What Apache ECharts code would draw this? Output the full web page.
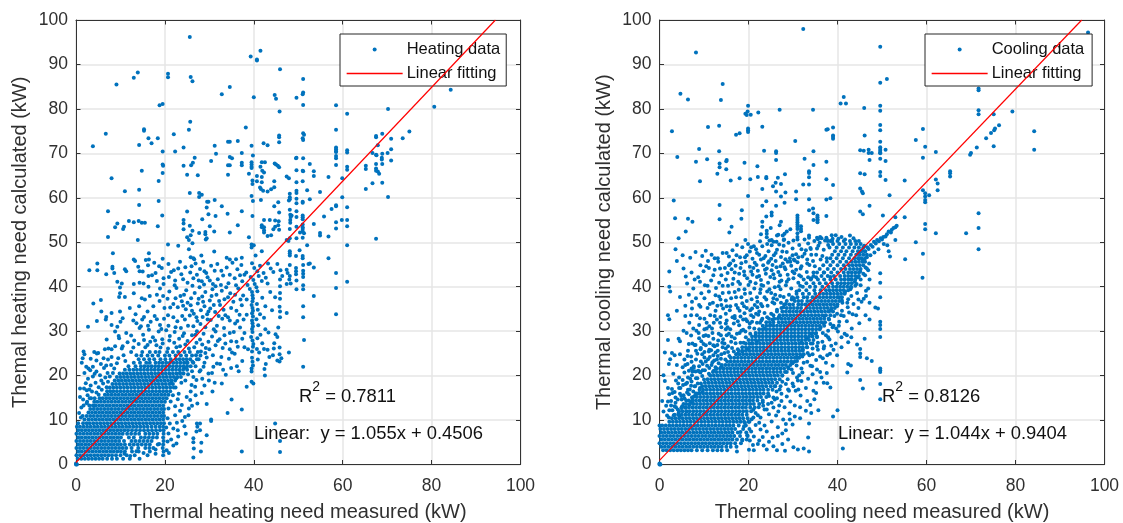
<!DOCTYPE html>
<html><head><meta charset="utf-8">
<style>html,body{margin:0;padding:0;background:#fff}#c{width:1123px;height:523px}</style>
<script src="https://cdn.jsdelivr.net/npm/echarts@6/dist/echarts.min.js"></script>
</head><body><div id="c"></div>
<script>
const heatFitX=[0,94.36], heatFitY=[0.4506,100];
const coolFitX=[0,94.89], coolFitY=[0.9404,100];
const heatingSparse=[25.6,96.2,39.3,91.8,40.7,91.1,40.7,90.9,41.5,93.1,45.9,88.9,9.1,85.5,13,87,13.9,88.2,20.7,87.9,20.7,87.1,25.8,87.2,26.2,86.2,32.8,83.3,34.6,84.9,40,82.6,44.7,83.1,45,82.3,49.6,82.5,18.8,80.8,19.5,81.1,45.8,79.4,25.7,77.1,38.2,75.8,25.4,75.3,15.3,75.4,15.3,75.1,6.7,74.4,22,74.3,16.3,73.4,18.4,73.4,45.7,74,45.7,73.6,45.7,72.5,3.8,71.6,14.2,71.9,17,72.3,24.2,71.3,34.2,72.6,34.6,72.6,36.4,72.8,42.2,72.3,43.1,71.8,39.5,71.7,31.2,71.7,19.5,70.4,22.3,70.4,31.5,69.9,37.3,70.1,39.8,69.5,34.6,69.2,35.1,68.9,26.7,69,49.5,68.9,30.4,68.3,26.3,67.9,25.9,67.3,24.2,67.2,19.5,67.5,19.6,67.2,34.2,67.3,34.6,67.3,37.3,67.9,37.3,67.3,39.5,68,39.5,67.5,39.5,67,39.5,66.7,41.8,68,42.5,68,41.5,67,44.7,67.7,45,67.5,45.4,67.2,45.7,66.9,14.8,66.1,41.9,66.1,42.3,65.7,49.6,66.2,19.5,65.6,25,65.2,27.4,65.1,34.2,65.2,38.9,65.4,40.7,64.9,41.8,64.7,47.4,64.8,47.9,64.4,8,64.4,18.6,63.8,39.7,63.9,39.7,63.1,40.7,63.7,41.8,63.5,44.6,63.7,49.6,63.5,41.4,62.3,41.6,62,42.1,61.6,43.1,61.4,43.9,61.9,44.6,62.4,11,61.5,14.2,61.8,25.6,61.1,27.7,61.1,28.3,60.7,27.7,60.2,39.5,60.4,39.8,59.3,48.1,60.9,48.1,60.1,48.1,59.7,47.9,59.4,49.6,61.6,49.6,61.1,49.6,59.8,49.6,58.8,18.6,59.3,31.2,59.5,29.5,59.1,29.8,59.1,41.6,59.5,45.5,59,44.6,58.1,14.2,58.4,32.8,58.1,29.4,57.8,7.2,57,25,56.9,37.3,57,34.1,56.4,45.7,56.7,19.4,56,29.8,56.3,31.4,55.9,39.7,55.9,28.4,55.2,7.2,51.2,8.8,53.4,9.3,54.2,10.6,53,10.8,53.5,11.9,54.8,13,54.5,14.1,54.8,14.8,54.4,15.5,54.4,18.4,53.6,13.9,50.5,24.2,55,24.2,54.2,24.2,52.9,25.6,53.7,26.2,52.6,25,51.1,25.4,50.5,25.8,51.6,27.7,52.1,29.1,52.3,29.1,51.8,29.4,50.9,29.2,50.6,31.1,52.4,30.1,53.6,34.6,52.2,36.4,53.8,38.9,51.1,42.3,55,41.8,53.8,41.8,53.4,42.3,53.4,42.3,52.7,42.3,52.2,43.1,51.4,43.9,51.6,43.6,55,44.8,54.9,45.6,54.7,45.5,53.8,44.8,53.5,44.4,52.9,45.7,52.8,48.1,57.3,48.2,56.2,48.5,56,48.3,55.7,48.2,55,48.2,54.4,48.1,53,48.1,50.9,47.8,50.3,47.4,50.5,26.2,49.8,20.7,49.5,23,49.2,39.5,49.5,39.5,48.8,40,49.3,41.8,48,40.4,47,31.1,47.9,25.4,48.4,16.4,47.5,8.3,47.5,28.2,47,25.8,46.6,26.4,46.4,26.6,46.2,33.9,46.5,34.6,46.1,36,46.2,37.3,46.5,13,46.1,15.7,46,16.4,46.1,19.5,46.3,51.1,86.7,51.1,83.7,51,83.3,51.1,80.9,58.5,80.8,70.2,80,61,78.9,80.6,80.5,84.3,84.3,58.5,75.3,75,74.9,73.5,73.4,68.9,74.4,67.5,73.9,67.5,73.6,70.9,73.3,51.1,74.5,51.3,74.2,51,73.4,51.1,73,67.9,71.8,70.9,70.9,58.5,71.3,58.5,70.9,58.5,70.5,58.5,70.3,61,70.7,61,70.2,66.7,70.1,67.5,69.7,67.6,69.6,70.1,70.1,68.9,69.9,68.8,69,68.8,68.6,49.6,69,51.1,68.9,70.9,68.4,68.9,67.6,67.5,67.6,58.5,69.4,58.5,68.9,58.5,67.4,52.6,67.6,65.2,67.2,65.2,66.5,61,67,61,66.3,67.5,66.6,67.9,65.9,67.5,66.1,68.2,65.4,51,66.1,51.1,66,53.5,66,53.5,64.9,56.8,64.7,59.9,64.4,51,63.7,66.7,63.3,68.9,63.4,65.2,62,52,61.7,54.9,61.3,70.2,60.2,59.9,60.1,52.6,59.7,51,59.1,51,58.9,61,57.9,58.5,58.3,58.5,58.1,57.5,57.5,49.6,57,49.6,55.7,51,56,51,55.6,51,55.2,55.8,55.8,59.8,55,61,55,58.5,54.5,53.5,54.1,61,53.6,58.5,53.1,54.9,52.1,54.9,51.5,56.8,51.3,67.5,50.8,61,49.3,51,54,51,53.4,51,53,51,52.4,51,51,49.6,53.5,50.4,52.2,51.3,52,49.6,50.9,52,49.3,48.1,48,48.1,47.5,48.1,47,50.3,48.2,51,46.9,51,46.4,56.8,46.4,49.5,46.9,58.5,43.1,61,41.1,58.5,39.7,53.5,37.9,51.1,35.6,58.5,33.8,51.1,33.1,47.4,34.1,51.3,28,47.9,25.2,51.1,22,51.1,44.9,52.6,45.2,52.3,45.1,53.5,44.3,48.1,44.9,47.4,43.8,47.6,43.1,49.5,44.2,49.5,43.5,49.5,42.8,51.1,43.6,51.1,42.9,51.1,42.2,48.1,42.4,48,41.6,48.3,40.7,49.6,41.4,49.6,39.4,51.1,40.3,51.1,39.4,0,0,0.1,0.1,0.2,0,0,0.2];
const heatingCloud=[3,43.7,4.8,43.7,4.8,45.2,6.8,42.8,8.2,44.5,8.2,44.1,8.6,43.1,11,43.9,11.3,43.5,13.3,45.8,14,44.5,14.3,43.5,15,43.4,17.9,43.1,16.3,42.4,9.3,41.1,10.3,40.7,9.9,39.8,13,40.6,14.3,40.9,15.2,40.7,16.3,40,18.2,41.3,19.7,41.9,19.7,40.6,18.9,39.6,9.9,38.5,9.7,37.7,11,37.7,13,38.5,14.8,37.4,15.5,37.1,3.9,36.2,5.6,37,5.7,34.4,8,34.1,4.7,32.3,2.7,31,6.8,33.2,6.7,32.6,9.9,34.4,10.5,32.9,10,32.1,8,31.4,9.3,31,8.8,29.9,11.3,29.6,6.9,28.1,9.6,28.9,9.7,28.4,4.1,25.3,1.7,25.4,1.9,24.8,1.5,23.9,1.3,22.9,2.8,21.6,3.8,22,3.2,21.2,4.7,25,5,25.1,6.5,25.9,7.3,26.1,8,25.9,8.8,26.6,10.3,26.1,10.5,26.6,6.2,23.9,8,24.2,9.5,23.9,10.7,24.6,2.3,22,0.9,17.1,1.8,17.1,0.9,15.2,2.6,15.6,35,14.6,34.1,11.6,37.3,12.4,28.3,16.1,30.7,16.4,27.3,13.7,29.4,13.6,30.4,10.1,30.4,9.8,27.2,9.2,27.3,8.5,27.1,7.4,26.4,5.9,26.4,5,26.5,3.6,27.9,9.2,27.9,7.7,29.4,6.6,28.2,4.9,28.1,2.9,26.4,1.6,37.3,2.9,44.8,9.2,45.9,5.3,45.9,2.8,22.6,4.7,21.9,4.3,20.8,7,21.1,9.2,22.3,11.1,23.8,13.4,24.9,15.2,25.7,14.5,25.3,11.1,24.5,10.7,26,17.9,26.8,17.5,26.4,19.7,28.7,22,29.8,20.5,31.7,22.7,30.9,22,32.8,18.2,38.4,17.5,39.5,18.6,39.9,18.2,39.5,21.6,39.5,20.9,42.5,20,42.4,21.5,39.8,22.3,45.8,26.3,45.8,24.8,45.8,23.2,46.2,23.9,44.6,27.3,44.5,26.1,16.2,44.8,17.6,45.4,19.3,44.2,20.8,45.1,22,43.7,23.4,45.6,24.6,44.4,25.7,43.2,26.9,45.2,27.9,44,28.6,45.6,29.3,43.1,30.4,44.7,31.8,45.1,32.7,43.6,33.9,44.3,35.2,45.4,36.3,43.9,37.2,44.9,38.3,43.2,39.6,45.3,40.1,44.2,40.8,43.5,41.4,44.7,42.2,43.1,43.2,45.2,43.8,44.1,42.7,42,44.4,43.3,45.3,45.1,46,43.7,46.4,42.4,20.9,42.2,22.3,41.4,23.7,42.8,25.1,40.9,26.4,41.9,27.2,42.7,28.3,41.2,29.6,42.1,30.8,40.6,31.9,41.7,33.1,42.5,34.3,40.8,35.7,41.9,36.9,42.6,37.4,41.2,38.6,40.4,39.3,42.2,39.9,41.5,40.2,40.6,41.1,42.4,41.8,41.3,43.1,40.7,45.9,41.6,47.4,40.6,45.9,40.1,21,38.9,22.6,39.7,23.5,37.9,24.8,39.2,25.9,37.4,26.7,38.6,27.8,39.9,28.4,37.8,29.1,38.8,30.1,36.9,30.7,39.4,31.6,38.2,32.8,39.1,33.4,37.2,34.7,38.5,35.4,36.6,36.5,39.6,37.6,38,38.4,37.1,39.1,39.5,39.6,38.8,39.7,38.1,39.8,37.4,39.7,36.7,40.6,39.9,40.8,39,41.9,37.5,43.7,38.8,44.8,37.6,45.9,38.6,45.9,37.3,16.6,37.9,17.4,35.6,18.8,36.8,19.9,35.2,20.6,37.3,21.9,36.1,22.9,35.4,23.8,36.7,24.7,34.9,25.8,35.8,26.5,33.9,27.4,36.2,28.1,34.7,28.9,35.6,29.5,33.8,30.2,35.1,31.3,34.3,32.4,35.9,33.6,33.6,34.9,35.2,36.1,34.6,37.3,35.8,38.4,33.7,39.5,35.9,39.7,35.2,39.8,34.6,39.6,34,39.8,33.3,40.7,36.1,40.9,34.8,41.4,33.8,42.6,35.6,44.1,34.7,45.8,35.5,45.9,34.4,12.1,35.2,13.4,33.8,14.2,35.6,15.3,33.2,16.1,34.4,13.6,31.8,14.9,32.6,16.8,32.1,17.7,33.4,18.9,31.4,19.8,32.8,20.8,31.2,21.9,33.1,22.8,32.2,23.6,30.7,24.5,32.6,25.6,33.5,26.4,31.1,27.3,32.3,28.5,33.2,29.1,30.9,30.3,32.5,31.7,31.2,32.9,32.8,34.2,33.1,35.8,31.7,36.9,30.8,37.7,32.6,39.6,32.4,39.7,31.8,39.8,31.1,39.6,30.5,39.7,29.8,40.6,32.7,41,31.3,42.3,33,42.6,30.4,43.3,29.7,45.9,33.1,45.5,30.8,12.4,29,14.3,30.7,15.1,29.2,16.4,30.3,17.3,28.6,18.6,29.9,19.4,28.2,20.3,30.2,21.1,28.9,22.2,29.8,23.2,28.3,24.3,29.5,25.1,27.8,26.1,29.1,27.2,30,27.9,28.1,28.7,29.4,29.8,27.6,30.6,28.8,31.4,29.9,32.3,28.2,33.4,29.1,34.9,27.7,35.5,29.8,37.4,28.3,39.4,28.7,39.7,27.9,39.9,27.1,40.8,28.4,41.5,29.2,41.9,27.3,42.3,26,44.9,29.3,45.3,28.7,11.6,27.5,12.9,26.3,14.1,27.1,15.6,26.4,16.7,27.6,18.1,26.8,19.5,27.2,20.7,26.1,22.1,27.4,23.4,26.6,24.6,27,26.6,26.4,28.4,27,29.2,26.2,31.4,26.8,33,26.2,35.1,25.2,36.4,26.5,38.7,25.9,39.8,26.5,39.6,25.4,40.7,26,41.2,25.2,43.1,25.8,44.3,24.6,45.3,23.4,29.1,25.1,30.8,24.6,32.7,24.2,34.4,23.8,35.7,24.9,36.2,22.1,37.4,23.3,39.6,24,39.7,23.1,40.9,23.6,42.7,22.6,43.5,24.2,27.6,23.7,28.9,22.9,29.4,24.1,32.4,22.6,33.1,21.3,34.9,21.7,36.6,21,26.9,22.1,27.8,20.9,28.4,19.3,30.6,20.6,31.2,18.4,33.7,20.2,26.1,21,27.1,19,28.9,17.8,29.9,18.9,25.8,16.4,26.9,15.6,25.4,12.6,26.1,13.2,23.4,12.1,23.9,9.8,24.4,8.6,22.7,9.4,23,6.3,24.7,6.9,20.9,2.6,21.4,5.6,20.4,3.2,20.6,10.4,21.8,15.6,23.1,15.9,22.4,17.3,23.7,18.4,24.6,18.9,25.2,20.3,1.9,20.6,2.7,19.3,3.8,19.8,4.6,20.9,5.4,20.1,6.3,21.7,7.1,20.6,7.9,22.4,9.2,22.8,3.3,17.8,4.4,18.4,5.7,18.9,6.6,19.6,1.6,14.6,2.4,16.7,3.6,16.4,1.2,12.8,0.7,11.6,1.1,10.6,11.1,23.3,12.4,25.3,13.6,24.6,5.8,16.8,6.9,17.4,4.2,14.9,4.6,16.2];
const heatingExtra=[17.1,42.6,18.7,44.6,21.4,43.3,23,44.1,24.1,41.7,26,44.6,27.6,41.4,28.9,43.5,30.1,41.4,31.2,43.6,32.6,40.4,34.6,42.7,36,40.3,37.9,42.7,22.2,40.3,24.3,38.2,26.2,40.2,27.6,37.3,28.8,40.5,30.5,37.9,31.4,40.1,32.2,36.8,33.8,39.9,34.2,37.6,35.8,38.2,37,37.1,18.2,38.2,19.6,37.9,21.2,35.3,22.4,37.4,24.1,35.7,25.1,36.4,26.1,34.6,27.1,33.1,28.6,36.6,29.8,34.4,31,35.9,32.1,33.4,33.2,34.8,34.6,32.4,36.8,33.7,12.9,32.4,14.6,31.1,16.2,31.2,18.2,32.7,19.2,30.5,20.7,33.6,22.4,30.9,23.9,33.4,25.2,31.2,26.9,29.2,28,31.6,29.6,32.6,31,30.4,33.3,30.7,34.6,29.6,36.3,32.3,37.9,29.6,13.1,27.9,15.3,28,16.1,26.9,17.8,27.9,19,26.3,21,27.9,22.6,26.4,24,28.9,25.4,26.1,27.1,27.4,28.1,25.4,30,25.9,31.9,27.8,33.6,27.2,34.6,25.9,36.1,27.6,37.9,26.4,5.6,22.6,6.8,22.3,8.6,21.6,3.3,23.8,4.6,23.4,7.2,23.6,2.2,18.3,3,16.9,5.1,17.4,4.2,20.4,6.1,18.2,7.2,18.6,7.6,19.8,8.3,20.6,1.7,13.3,2.4,13.8,3.1,14.9,4.1,13.2,20.8,12.6,21.3,14.2,22.3,13.1,22.9,14.7,21.4,18.3,22.6,19.4,23.4,20.6,24.4,21.7,26.2,23.1,27,24.6,28,21.2,24.9,22.9,20.6,5.2,21.9,8.1,22.9,7.7,20.3,8.3,16.6,2.9,17.9,3.4,18.7,4.6,17.9,2.4,15.2,2.6,13.6,3,12.2,1.9,10.9,2.4];
const heatingCore=[[1.3,0.4,1.2,2,2.8,3.6,4.4,5.2,6,7,8.1,9.2,10.6,12.1,14.3],[2.1,0.1,0.9,1.7,2.5,3.3,4.1,4.9,5.7,6.5,7.3,8.1,9,10,11.4,13.2,16.1,19.6],[2.9,0.5,1.3,2.1,2.9,3.7,4.5,5.3,6.1,6.9,7.7,8.5,9.3,10.1,11,12.6,14.1,19.7],[3.7,0.1,0.9,1.7,2.5,3.3,4.1,4.9,5.7,6.5,7.3,8.1,8.9,9.7,10.5,11.3,12.5,14,15.6,16.5,17.4,19.5],[4.5,0.5,1.3,2.1,2.9,3.7,4.5,5.3,6.1,6.9,7.7,8.5,9.3,10.1,11,12.1,13,13.9,14.8,15.7,16.6,18.4,19.6],[5.3,0.1,0.9,1.7,2.5,3.3,4.1,4.9,5.7,6.5,7.3,8.1,8.9,9.7,10.8,12.5,13.4,14.3,15.2,16.1,17,19.7],[6.1,0.5,1.3,2.1,2.9,3.7,4.5,5.3,6.1,6.9,7.7,8.5,9.3,10.1,11.9,13,14.6,15.5,16.4,17.3,18.2,19.6],[6.9,0.1,0.9,1.7,2.5,3.3,4.1,4.9,5.7,6.5,7.3,8.1,8.9,9.7,10.5,11.5,12.4,13.3,14.2,15.6,16.5,17.4,18.3,19.7],[7.7,0.5,1.3,2.1,2.9,3.7,4.5,5.3,6.1,6.9,7.7,8.5,9.3,10.1,10.9,11.7,12.6,13.5,14.4,15.3,16.2,17.1,18,18.9,19.7],[8.5,0.2,0.9,1.7,2.5,3.3,4.1,4.9,5.7,6.5,7.3,8.1,8.9,9.7,10.5,11.3,12.1,12.9,13.7,14.5,15.3,16.1,17,17.9,18.8,19.6],[9.3,0.5,1.6,2.4,3.1,3.9,4.7,5.5,6.3,7.1,7.9,8.7,9.5,10.3,11.1,11.9,12.7,13.5,14.3,15.1,15.9,16.7,17.5,18.3,19.1,19.8],[10.1,1.9,2.8,3.6,4.4,5.2,6,6.8,7.6,8.4,9.2,10,10.8,11.6,12.4,13.2,14,14.8,15.6,16.4,17.2,18,18.8,19.6],[10.9,1.5,2.4,3.2,4,4.8,5.6,6.4,7.2,8,8.8,9.6,10.4,11.2,12,12.8,13.6,14.4,15.2,16,16.8,17.6,18.4,19.2,19.8],[11.7,2.8,3.6,4.4,5.2,6,6.8,7.6,8.4,9.2,10,10.8,11.6,12.4,13.2,14,14.8,15.6,16.4,17.2,18,18.8,19.6],[12.5,3.2,4,4.8,5.6,6.4,7.2,8,8.8,9.6,10.4,11.2,12,12.8,13.6,14.4,15.2,16,16.8,17.6,18.4,19.2,19.8],[13.3,3,3.8,4.4,5.2,6,6.8,7.6,8.4,9.2,10,10.8,11.6,12.4,13.2,14,14.8,15.6,16.4,17.2,18,18.8,19.6],[14.1,2.5,4.1,4.8,5.6,6.4,7.2,8,8.8,9.6,10.4,11.2,12,12.8,13.6,14.4,15.2,16,16.8,17.6,18.4,19.2,20],[14.9,3.4,5.3,6,6.8,7.6,8.4,9.2,10,10.8,11.6,12.4,13.2,14,14.8,15.6,16.4,17.2,18,18.8,19.6,20.4],[15.7,5.1,6.5,7.2,8,8.8,9.6,10.4,11.2,12,12.8,13.6,14.4,15.2,16,16.8,17.6,18.4,19.2,20,20.8],[16.5,7,7.7,8.4,9.2,10,10.8,11.6,12.4,13.2,14,14.8,15.6,16.4,17.2,18,18.8,19.6,20.4,21.2],[17.3,7.6,8.4,9.2,10,10.8,11.6,12.4,13.2,14,14.8,15.6,16.4,17.2,18,18.8,19.6,20.4,21.2,22],[18.1,8.2,9,9.8,10.6,11.4,12.2,13,13.8,14.6,15.4,16.2,17,17.8,18.6,19.4,20.2,21,21.8],[18.9,8.7,9.5,10.3,11.1,11.9,12.7,13.5,14.3,15.1,15.9,16.7,17.5,18.3,19.1,19.9,20.7,21.5,22.3],[19.7,9.2,10,10.8,11.6,12.4,13.2,14,14.8,15.6,16.4,17.2,18,18.8,19.6,20.4,21.2,22,22.8,23.6],[20.5,9.8,10.6,11.4,12.2,13,13.8,14.6,15.4,16.2,17,17.8,18.6,19.4,20.2,21,21.8,22.6,23.4,24.2],[21.3,11,12,12.9,13.7,14.5,15.3,16.1,16.9,17.7,18.5,19.3,20.1,20.9,21.7,22.5,23.3,24.1,25],[22.1,11.8,13.4,14.6,15.4,16.2,17,17.8,18.6,19.4,20.2,21,21.8,22.6,23.4,24.2,25,25.8],[22.9,13,14.4,15.8,16.6,17.9,18.7,19.5,20.3,21.1,21.9,22.7,23.5,24.3,25.1,26.4],[23.7,14.1,15.3,16.5,17.6,19,20.1,21.3,22.5,23.3,24.1,24.9,25.7,27.2],[24.5,14.7,16.1,17.2,18.5,20,21,22.4,23.6,24.8,26.1,28],[25.3,14.9,16.6,17.9,18.8,20.5,21.8,23,24.4,25.6,27.4]];
const coolingSparse=[32.3,98,8.2,92.7,14.2,85.6,4.7,83.4,6.4,82.1,13.8,82,41.4,82.7,40.7,81.2,41.9,81.2,19.9,80.7,27,79.8,34.5,79.8,19.8,79.4,19.3,78.9,19.6,78.6,20.5,78.7,22.2,79.2,13.4,76.2,10.9,75.9,23.1,76,19.9,75.6,19.9,75.2,19.9,74.8,39,75.8,37.8,75.4,37.5,75.3,2.8,75,17.2,74.2,18,74.5,39,74,39,73.7,39,73.3,30.5,72.8,8.9,71,13.4,70.5,23.5,70.6,26.2,70.5,26.2,70.1,34.6,70.5,4,69.2,10.7,68.7,8.2,68.1,15.1,68.5,15,68.2,13.5,67.7,13.5,66.9,19.1,67.9,32.6,68.8,26.2,68.5,37.5,68.1,34.6,67.4,22,67.1,15,66.4,33.6,66,33.6,65.6,13,65.4,28.2,65.3,33.6,64.6,22.1,64.7,24,64.7,24,64.4,26.6,64.5,18,64.4,16,63.9,20.4,64.2,9.1,63.7,37.5,64.2,26.1,63.4,27.3,63.1,32.3,63,33.6,63,39,62.9,25.5,62.6,23.1,62,30.7,61.4,26.2,61.4,28.3,61.2,19.9,60.4,27.3,60.3,3.2,59.4,30.7,59.7,33.6,59.7,37.5,59.6,38.4,59.9,24,59.2,28.1,58.9,13.5,58.4,23.1,58.2,26.2,58.2,18.5,57.2,33.6,57.2,34.5,57.6,25.2,56.7,25.2,56,34.6,56.5,35.5,56,35.5,55.6,35.5,55.2,35.5,54.9,35.5,54.5,3.5,55.4,6.4,55.3,13.5,55.2,18.4,55.3,37.5,55.9,24,55.8,34.6,55,31,56,31,55.5,31,55,31,54.5,31,54,31,53.5,31,53,31.8,53.6,31.8,53,31.8,52.5,7.4,54.6,23.1,54.6,23.1,53.5,16.2,53.5,27.3,54.6,27,53.8,25,53.2,5.9,52.4,15.7,52.2,29.4,52.9,28.6,52.4,28.1,51.9,27.7,51.5,26.7,51.7,26.4,51.5,22.8,51.8,24.1,52.6,24.1,51.9,24.1,51.1,4.3,50.9,19.3,50.5,25.2,50.5,25.6,50.1,27.9,50.5,33.6,51.5,33.6,51,35.4,51,36.1,51.2,37.5,51,38.7,51.6,39.6,51.6,38.9,50.8,40.2,50.8,31,52,31,51.2,31,50.6,49.6,94,51.1,86.7,49.6,85.9,71.7,84.6,71.7,84.2,96.3,97.2,49.6,80.7,49.6,79.6,46,80.2,71.7,79.7,71.7,78.8,75.1,78.8,79.3,79.4,76.3,76.3,75.4,75.6,75.2,75.2,74.5,74.6,84.2,75,49.6,76.4,49.6,75.2,59.2,75.5,46.1,74,73.4,73.4,57.6,73,49.6,72.6,49.6,71.4,49.6,71,49.6,70.6,49.6,70.2,49.6,70,50.8,70.8,59.7,71.5,75.1,71.6,71.3,71.3,84.2,70.8,62.1,70.3,70,70.1,69.8,69.7,59.2,69,49.6,68.8,50.8,68.3,47.2,68.5,45.9,70.6,45.1,70.7,47,70.8,47,70.1,47.7,70.1,65.3,66,65.3,65.5,65.3,64.8,49.6,65.8,49.6,64.9,45.1,65.5,46.1,65.3,62.1,64.1,62.5,63.2,50.8,64,55.1,63.9,45.1,62.1,45.5,61.4,45.7,61,59.2,61.7,62.5,61.7,59.7,61,59.7,60.3,59.7,59.5,59.7,59,60.6,60.6,51.7,60.6,47.2,58.2,45.1,56.9,45.7,56.3,50.2,56,71.7,56.5,53,55.6,55.1,55.6,71.7,53.2,59.7,54.1,59.7,52.9,62.1,52,68.9,52,57.6,50,71.7,48.4,59.2,47.4,53,50.5,51.2,49.3,51.5,48,51.8,46.8,55.2,46.2,59.1,42,49.6,43,49.6,40.9,49.6,37.6,49.6,32.1,49.6,31.4,49.6,30.5,49.6,28.7,49.6,21.6,49.6,21.2,49.6,20.8,49.6,18.1,49.6,14.7,47.7,23.3,46.6,23.9,46.1,28.3,45.7,17.1,48.5,35.3,49.1,35.1,47.2,36.4,47.2,32.6,45.1,26,45.1,25,45.1,24.2,45.1,19,53.3,53.7,53,53.4,52.6,53.2,52.2,52.8,52,52.2,51.5,52.4,51.1,51.8,50.8,51.3,50.3,51.2,50,50.6,49.7,50.9,49.3,50.2,48.9,50.5,48.6,49.7,48.2,50.1,47.9,49,47.5,49.4,47,48.5,46.7,48.9,46.2,47.9,46,49.2,45.5,48.2,44.9,47.8,50.4,49.6,49.2,48.4,48.3,47.7,47.4,47.1,46.6,46.6,45.6,46,44.8,46.4,0,0,0.1,0.1,0.2,0,0,0.2,41.2,3.6,40,12.2,39,10.8,38.4,17.3,37.7,18.3,42.4,22.6,43,22.3,42.2,20.7,44.4,27];
const coolingCloud=[3.6,48.4,5.2,47.1,6.9,46.5,8.1,47.8,9.6,46.9,10.4,48.1,11.7,47.2,13.1,46.4,14.2,47.6,15.6,46.8,16.4,48.2,17.3,47.1,18.6,48.9,19.2,46.6,20.3,47.9,20.9,46.3,21.7,48.4,22.4,47.2,23.1,49.1,23.8,46.9,24.5,48,25.2,49.3,25.7,47.1,26.4,48.3,27.3,46.7,27.9,49.2,28.6,47.8,29.3,46.4,29.9,48.6,30.7,47.3,31.4,49.4,32.1,46.8,32.9,48.2,33.4,49.7,34.1,47.2,34.8,50.3,35.4,48.6,36,49.9,36.6,46.9,37.2,50.4,2.2,43.4,3.9,45.8,5.4,44.1,5.9,42.3,6.2,40.7,7.2,43.2,8.7,42.1,9.9,43.5,10.5,44.6,11.1,44.2,11.6,41.4,12.4,43.8,13.2,45.6,13.9,42.6,14.7,44.2,15.3,43.1,15.9,45.2,16.6,41.8,17.1,44.7,17.9,42.9,18.4,45.3,19,43.4,19.7,41.9,20.3,44.5,20.9,42.7,21.4,45.4,22.1,43.6,22.8,41.5,23.3,44.8,23.9,42.9,24.6,45.7,25.2,43.7,25.8,41.9,26.3,44.4,27.1,42.6,27.7,45.2,28.3,43.9,29,41.7,29.6,44.7,30.3,43,31,45.5,31.8,42.3,2.2,40,2.4,38.9,4.6,37.7,6.6,38.2,7.6,39.6,8.2,37.4,9.4,38.5,10.2,40.3,11.1,38.9,12,36.4,12.7,39.7,13.4,37.8,14.2,40.2,14.9,36.9,15.6,38.7,16.4,40.6,17.2,37.6,17.8,39.3,18.6,36.3,19.2,38.4,20,40.4,20.7,37.2,21.3,39.6,22,36.6,22.6,38.6,23.3,40.2,24,37.1,24.7,39.4,25.4,36.5,26,38.2,26.8,40.1,27.3,36.4,1.9,33.6,2.2,32.7,3.9,34.6,5.8,35.7,5.8,33.4,7.3,35.1,6.7,31.9,8.4,33.6,9.2,35.5,8.9,31.4,10.1,32.8,10.8,35.2,11.4,33.6,12.2,31.9,13,35.7,13.7,33.2,14.3,35.1,15.1,32.4,15.8,34.7,16.7,31.7,17.6,35.2,18.2,33.3,19,35.6,19.7,32.2,20.4,34.7,21.1,33.2,22,35.4,22.9,32.4,1.9,28,4.3,28.3,4.6,27.7,5.4,30.1,6.6,27.1,6.4,25.6,7.1,29,7.4,27.2,8.3,30.1,8.9,28.4,9.3,26.2,9.9,28.9,10.6,30.6,11.3,27.3,11.9,29.6,12.4,26.6,13.3,29.4,14.1,27.4,14.9,30.4,15.4,26.6,16.2,28.8,17.1,27.3,18,29.6,18.9,27.4,19.3,29.9,1.2,25.2,2.8,25.1,2.4,23.7,2.1,22.6,3.4,24.6,3.9,22.4,4.6,24.8,5.2,21.9,5.6,23.6,6.3,22.6,7.1,24.3,7.7,22.1,8.5,24.9,9.3,23.2,10.1,25.3,10.9,23.7,11.6,25.7,12.3,23.4,13.1,25.6,13.8,23.8,14.6,25.1,0.9,20.1,1.2,18.8,1.9,17.2,2.8,17,2.2,15.8,3.1,20.4,3.4,16.3,3.7,18.9,4.4,19.6,4.7,17.2,4.9,15.4,5.6,20.7,5.9,18.1,6.4,16.8,6.9,19.3,7.4,20.9,7.9,17.6,8.5,19.4,8.9,20.9,9.3,18.2,0.9,11.9,0.6,14.3,1.5,13.2,1.7,11,2.2,12.2,2.6,14.3,3.2,11.1,3.7,12.9,4.1,14.6,4.5,10.9,5.1,13.1,5.6,14.9,6.1,11.9,6.6,15.8,7.1,14.1,7.6,16.4,36.9,43.2,38.4,42.2,41,36.9,42.3,35.4,43.1,37.9,44.4,38.6,45.2,40.3,46.4,39.1,47.2,41.6,46.9,43.7,45.9,37.3,44.7,35.2,43.4,33.8,42.1,32.2,40.8,33.6,38.9,30.9,40.3,31.2,41.6,29.4,43.2,30.6,44.9,31.8,46.3,33.6,38.2,28.1,39.6,27.2,40.9,28.6,42.4,27.5,37,26.6,38.3,24.9,39.1,25.8,36.1,24.3,37.4,22.9,33.9,22.2,35.2,23.5,34.4,20.3,36.1,20.8,33.4,19.3,35.2,18.4,31.9,18.8,32.9,17.2,34.6,16.6,36.4,19.6,30.6,16.6,31.7,15.5,33.2,14.3,34.8,14.7,29.4,14.2,30.4,13.3,31.6,12.9,29.2,11.5,30.4,10.8,28.1,12.9,26.9,13.3,26.2,11,27.8,10.1,34.1,11.6,35.7,12.2,33.6,9.2,29.9,9,26.6,8.4,28.4,7.7,25.2,9.7,24.1,7.4,25.4,6.1,23.2,6.2,28.9,5.6,27.6,4.6,30.1,3.9,32.4,3.6,33.6,2.9,33.4,6.1,22.1,4.6,24.1,3.4,21.2,3.2,20.1,3.3,17.4,2.9,26.4,3.2,28.2,3.1,31.1,3.4];
const coolingWings=[20.6,48.9,21.9,47.6,23.4,46.4,24.2,49.6,25.1,46.3,26.1,47.6,26.9,49.5,27.6,47.9,28.3,46.2,29,49.9,29.9,47.1,30.4,45.9,31.2,46.6,31.9,48.4,32.6,47.4,33.2,46.1,33.9,48.7,34.5,45.8,35.2,47.2,35.7,49.2,36.2,46.1,36.9,48.3,37.6,46.4,37.9,49.4,15.6,44.8,16.9,43.2,18.2,44.2,19.4,45.6,20.6,43.4,21.8,44.9,22.4,42.4,23.7,43.8,24.9,42.2,25.4,44.9,26.7,43.3,27.4,41.4,28.1,44.4,28.8,42.7,29.4,45.6,30.1,41.9,30.7,43.8,31.4,42.6,31.9,44.6,32.4,41.6,33.1,43.3,33.7,44.9,34.1,41.9,34.6,43.2,35.2,42.1,14.2,38.6,15.4,40.2,16.9,38.8,18.1,40.6,19.1,39.4,20.4,38.6,21.6,40.8,22.7,39.4,23.6,37.6,24.4,40.9,25.1,38.6,25.9,39.9,26.4,37.1,27.2,39.4,27.9,37.7,28.4,40.3,29.1,38.2,29.6,39.6,30.2,37.4,30.8,38.9,31.6,40.2,12.6,34.6,13.9,35.9,14.9,33.9,15.9,35.6,16.9,33.4,18,34.6,18.8,32.6,19.6,35.2,20.6,33.6,21.4,35.9,22.2,33.7,22.8,36.1,23.6,34.1,24.3,35.7,25.1,33.9,25.8,36.2,26.4,34.8,10.6,31.9,11.8,30.6,12.9,32.6,13.9,30.9,14.9,31.7,15.9,30.4,16.9,32.9,17.9,31.3,18.8,30.3,19.4,32.7,20.2,30.8,20.8,32.1,21.3,30.6,21.9,31.9,22.4,34.4,9.4,27.7,10.4,29.1,11.2,25.8,12.1,28.3,13,26.9,13.8,29.1,14.6,27.2,15.6,29.4,16.3,26.2,16.9,28.4,17.6,25.9,18.2,27.4,8.2,25.6,9.6,24.8,10.4,26.8,11.3,24.2,12.6,25.2,13.9,24.8,14.9,26.1,15.7,24.4,7.2,21.6,8.2,23.6,8.9,22.1,9.7,21.2,10.4,23.2,11.2,21.7,11.9,23,12.6,21.9,13.3,22.8,6.4,19.6,7.2,18.7,8.1,20.9,8.6,18.2,9.6,19.9,10.2,21.2,4.6,15.9,5.3,17.9,6,14.4,6.8,16.9,7.3,15.1,8,17.6,8.4,15.9,9.1,17.2,2.9,12.2,3.6,13.9,4.3,11.6,4.9,12.7,5.4,13.6,18.2,7.3,19,8.6,20.6,7.4,21.6,8.9,22.7,7.9,20.3,5.4,21.2,6.3,22.4,9.4,23.6,8.8,20.7,10.2,21.6,11.6,22.7,10.6,23.6,12.4,24.6,11.3,25.6,12.8,26.7,11.9,24.4,13.6,23.2,14,25.9,14.6,27.4,14.3,28.6,15.3,26.3,16.4,27.4,15.9,28.9,16.9,30.1,17.6,31.2,16.9,27.6,18.6,28.8,19.2,29.9,18.2,30.9,19.6,32.1,20.7,28.6,20.8,29.7,21.4,30.8,22.3,31.9,21.6,33.2,23.1,34.3,22.1,35.4,21.4,30.9,23.3,32.1,24.3,33.3,25.1,34.4,24.8,35.6,25.8,36.7,23.9,37.7,24.6,33.1,26.4,34.4,27.2,35.4,26.6,36.6,27.6,37.9,28.6,38.6,26.7,34.1,29.4,35.4,28.6,36.7,29.6,37.9,30.1,39.1,31.2,40.1,29.9,36.9,31.8,38.1,32.6,39.3,33.4,40.4,32.1,41.4,33.4,42.6,34.2,38.6,34.7,39.9,35.6,41.1,36.4,42.4,37.2,43.6,36.1,44.7,37.1,41.6,38.6,42.9,39.4,44,40.2,45.2,41.6,46.2,42.6,43.9,41.1,45.1,43.4,46.3,44.3,47.1,45.2,34,48.5,35.6,50.7,38.4,50.3,41.7,50.6,43.6,50.9,44.8,50.3,42.8,51.5,40.9,51.2,37.6,50.7,36.4,50.9];
const coolingFill=[17.4,49.4,19.9,49.6,21.2,49.1,22.6,50.2,24.7,50.4,26.3,50.1,28,50.6,30.1,50.4,32.6,50.6,33.2,45.2,31.7,44.1,30.2,46.1,28.8,45.6,27.2,44.6,26.1,45.8,24.4,45.4,22.8,46.1,21.1,44.2,19.6,47.1,18.1,46.6,16.6,45.9,15.1,47.6,13.6,44.1,12.4,46.4,10.9,45.8,9.2,44.8,
34.9,44.6,33.4,42.1,31.2,40.9,29.9,43.4,28.6,41.1,27,41.1,25.6,42.8,24.1,44.1,22.9,40.4,21.9,42.2,20.4,41.1,19.1,42.6,17.7,41.1,16.2,43.9,14.9,41.6,13.4,40.9,12.1,42.6,10.8,40.2,9.1,41.1,7.9,41.6,
29.7,37.1,28.4,36.1,27.1,37.9,25.6,37.4,24.2,38.9,23.1,35.6,21.9,37.6,20.8,35.1,19.6,36.8,18.4,37.6,17.2,35.9,16.1,37.4,15.1,35.6,13.7,37.1,12.6,38.1,11.3,36.1,10.1,37.4,8.9,35.9,7.3,36.6,
27.9,35.4,26.8,33.1,25.4,32.6,24.2,33.1,23.1,32.8,21.7,33.9,20.3,31.7,19.1,34,17.6,32.2,16.4,33.1,15.3,30.9,13.6,31.9,12.4,33.4,11.2,31.1,10.1,30.4,9.1,32.9,7.6,30.6,7.1,33.6,
24.9,31.4,23.6,30.6,22.6,31.9,21.6,29.1,20.4,29.4,19.4,28.6,18.4,30.1,17.4,29.4,16.1,27.6,15.1,29.1,14.3,28.2,13.2,27.9,12.1,26.8,11,28.9,9.9,27.1,8.8,29.6,7.9,26.9,6.1,29.6,
21.9,27.6,20.7,27.2,19.7,26,18.6,25.4,17.6,24.9,16.7,25.4,15.4,25.3,14.2,26.4,13.1,24.4,12.1,24.6,11.1,25.4,10.1,24.1,9.2,25.9,8.1,26.9,7.2,23.1,6.3,24.4,
14.8,23.6,13.9,22.1,12.9,23.6,11.7,22.4,10.7,22.2,9.7,22.6,8.7,21.1,7.7,21.7,6.6,21.1,5.8,22.4,12.2,21.1,11.1,20.4,10,19.1,9.2,20.7,8.2,19.4,7.3,20.1,6.2,18.4,5.2,19,4.2,18.2,
9.7,16.3,8.9,16.1,7.9,15.4,7.1,17.7,6.2,16.2,5.4,15.6,4.4,17.2,3.6,15.1,2.9,16.1,7.4,13.9,6.7,13.4,5.8,12.8,5,14.6,4.1,12.4,3.4,13.1,2.6,13.3,1.9,14.2,2.1,10.6,
19.2,9.4,20.2,9.6,21.1,10.6,22.1,11.1,21.1,12.3,22.3,12.9,23.3,13.2,24.1,12.4,25.2,13.9,24.6,15.4,25.6,15.1,26.4,14.9,27,16.9,25.9,17.6,27.2,17.6,28.4,18.1,29.1,16.6,27.6,20,28.9,21.9,30,20.6,31.1,18.9,31.4,20.1,29.9,22.8,31,24.1,32.4,22.9,33.7,24.6,32.2,25.9,31.9,27.4,33.1,28.4,34.4,26.1,35.6,27.4,36.9,26.1,35.1,29.4,36.2,30.8,37.4,29.1,38.4,31.6,39.7,30.6,37.1,33.4,38.4,34.6,39.9,33.9,41,34.6,42.2,36.4,40.4,37.6,41.7,38.9,43.1,39.9,44.3,40.6,42.9,41.6,44.6,42.1,45.8,42.9,46.6,44.1,
18.6,5.4,19.7,6.6,21,4.4,22.4,5.4,23.4,4.3,24.6,5.1,25.6,4.1,26.6,6.4,27.6,7,28.4,9.1,29.3,10.1,31.6,10.4,32.9,12.1,33.9,13.4,35.2,16.1,36.9,18.4,37.6,20.6,38.9,22.2,39.9,24.6,40.9,26.4,42.1,29.1,43.1,28.6,44.2,33.6,45.4,36.6,46.4,37.9,46.9,39.6];
const coolingCore=[[3.2,0.8,1.6,2.4,3.2,4,4.8,5.6,6.4,7.2,8.4,9.6,10.8,12,13,14,15.2],[4,0.4,1.2,2,2.8,3.6,4.4,5.2,6,6.8,7.6,8.4,9.2,10,10.8,11.6,12.4,13.2,14,15,16,17.3],[4.8,0,0.8,1.6,2.4,3.2,4,4.8,5.6,6.4,7.2,8,8.8,9.6,10.4,11.2,12,12.8,13.6,14.4,15.2,16,17,18.3],[5.6,0.4,1.2,2,2.8,3.6,4.4,5.2,6,6.8,7.6,8.4,9.2,10,10.8,11.6,12.4,13.2,14,14.8,15.6,16.4,17.4,18.6,19.6],[6.4,0,0.8,1.6,2.4,3.2,4,4.8,5.6,6.4,7.2,8,8.8,9.6,10.4,11.2,12,12.8,13.6,14.4,15.2,16,16.8,18.1,19.8],[7.2,0.4,1.2,2,2.8,3.6,4.4,5.2,6,6.8,7.6,8.4,9.2,10,10.8,11.6,12.4,13.2,14,14.8,15.6,16.4,17.6,19.5],[8,0.2,1,1.8,2.6,3.4,4.2,5,5.8,6.6,7.4,8.2,9,9.8,10.6,11.4,12.2,13,13.8,14.6,15.4,16.2,17,18.8,20.2],[8.8,0,0.6,1.4,2.2,3,3.8,4.6,5.4,6.2,7,7.8,8.6,9.4,10.2,11,11.8,12.6,13.4,14.2,15,15.8,16.6,17.8,19.4],[9.6,2.2,3,3.8,4.6,5.4,6.2,7,7.8,8.6,9.4,10.2,11,11.8,12.6,13.4,14.2,15,15.8,16.6,17.4,18.2,19,20],[10.4,2.8,3.6,4.4,5.2,6,6.8,7.6,8.4,9.2,10,10.8,11.6,12.4,13.2,14,14.8,15.6,16.4,17.2,18,18.8,19.8],[11.2,3.4,4.2,5,5.8,6.6,7.4,8.2,9,9.8,10.6,11.4,12.2,13,13.8,14.6,15.4,16.2,17,17.8,18.6,19.6],[12,4.4,5.2,6,6.8,7.6,8.4,9.2,10,10.8,11.6,12.4,13.2,14,14.8,15.6,16.4,17.2,18,18.8,19.6,20.6],[12.8,5,5.8,6.6,7.4,8.2,9,9.8,10.6,11.4,12.2,13,13.8,14.6,15.4,16.2,17,17.8,18.6,19.4,20.4,21.4],[13.6,6,6.8,7.6,8.4,9.2,10,10.8,11.6,12.4,13.2,14,14.8,15.6,16.4,17.2,18,18.8,19.6,20.4,21.2,22.4],[14.4,6.6,7.4,8.2,9,9.8,10.6,11.4,12.2,13,13.8,14.6,15.4,16.2,17,17.8,18.6,19.4,20.2,21,22,23.2],[15.2,7.6,8.4,9.2,10,10.8,11.6,12.4,13.2,14,14.8,15.6,16.4,17.2,18,18.8,19.6,20.4,21.2,22,22.8,24],[16,8.2,9,9.8,10.6,11.4,12.2,13,13.8,14.6,15.4,16.2,17,17.8,18.6,19.4,20.2,21,21.8,22.6,23.4,24.4],[16.8,9,9.8,10.6,11.4,12.2,13,13.8,14.6,15.4,16.2,17,17.8,18.6,19.4,20.2,21,21.8,22.6,23.4,24.4,25.4],[17.6,9.6,10.4,11.2,12,12.8,13.6,14.4,15.2,16,16.8,17.6,18.4,19.2,20,20.8,21.6,22.4,23.2,24,25,26],[18.4,10.2,11,11.8,12.6,13.4,14.2,15,15.8,16.6,17.4,18.2,19,19.8,20.6,21.4,22.2,23,23.8,24.6,25.4,26.4],[19.2,10.8,11.6,12.4,13.2,14,14.8,15.6,16.4,17.2,18,18.8,19.6,20.4,21.2,22,22.8,23.6,24.4,25.2,26,27],[20,11.4,12.2,13,13.8,14.6,15.4,16.2,17,17.8,18.6,19.4,20.2,21,21.8,22.6,23.4,24.2,25,25.8,26.6,27.6],[20.8,12,12.8,13.6,14.4,15.2,16,16.8,17.6,18.4,19.2,20,20.8,21.6,22.4,23.2,24,24.8,25.6,26.4,27.2,28.2],[21.6,12.8,13.6,14.4,15.2,16,16.8,17.6,18.4,19.2,20,20.8,21.6,22.4,23.2,24,24.8,25.6,26.4,27.2,28,29],[22.4,14,14.8,15.6,16.4,17.2,18,18.8,19.6,20.4,21.2,22,22.8,23.6,24.4,25.2,26,26.8,27.6,28.4,29.4],[23.2,15.2,16,16.8,17.6,18.4,19.2,20,20.8,21.6,22.4,23.2,24,24.8,25.6,26.4,27.2,28,28.8,29.6,30.4],[24,16,16.8,17.6,18.4,19.2,20,20.8,21.6,22.4,23.2,24,24.8,25.6,26.4,27.2,28,28.8,29.6,30.4,31.4],[24.8,17.2,18,18.8,19.6,20.4,21.2,22,22.8,23.6,24.4,25.2,26,26.8,27.6,28.4,29.2,30,30.8,31.6,32.4],[25.6,17.8,18.6,19.4,20.2,21,21.8,22.6,23.4,24.2,25,25.8,26.6,27.4,28.2,29,29.8,30.6,31.4,32.2],[26.4,18.6,19.4,20.2,21,21.8,22.6,23.4,24.2,25,25.8,26.6,27.4,28.2,29,29.8,30.6,31.4,32.2,33.2],[27.2,19.4,20.2,21,21.8,22.6,23.4,24.2,25,25.8,26.6,27.4,28.2,29,29.8,30.6,31.4,32.2,33,34],[28,20,20.8,21.6,22.4,23.2,24,24.8,25.6,26.4,27.2,28,28.8,29.6,30.4,31.2,32,32.8,33.6,34.6],[28.8,20.8,21.6,22.4,23.2,24,24.8,25.6,26.4,27.2,28,28.8,29.6,30.4,31.2,32,32.8,33.6,34.4,35.4],[29.6,21.6,22.4,23.2,24,24.8,25.6,26.4,27.2,28,28.8,29.6,30.4,31.2,32,32.8,33.6,34.4,35.2],[30.4,22.4,23.2,24,24.8,25.6,26.4,27.2,28,28.8,29.6,30.4,31.2,32,32.8,33.6,34.4,35.2,36],[31.2,23.2,24,24.8,25.6,26.4,27.2,28,28.8,29.6,30.4,31.2,32,32.8,33.6,34.4,35.2,36,37],[32,24,24.8,25.6,26.8,27.6,28.4,29.2,30,30.8,31.6,32.4,33.2,34,34.8,35.6,36.4,37.2],[32.8,24.6,25.8,26.6,27.4,28.2,29,29.8,30.6,31.4,32.2,33,33.8,34.6,35.4,36.2,37,38],[33.6,25.6,27,27.8,28.6,29.4,30.2,31,31.8,32.6,33.4,34.2,35,35.8,36.6,37.4,38.4],[34.4,26.4,27.6,28.4,29.2,30,30.8,31.6,32.4,33.2,34,34.8,35.6,36.4,37.2,38,39],[35.2,27.4,28.6,29.4,30.2,31,31.8,33,33.8,34.6,35.4,36.2,37,37.8,38.6,39.4],[36,28,29.2,30,31.2,32,32.8,33.6,34.4,35.2,36,36.8,37.6,38.4,39.2,40],[36.8,28.6,30.4,31.2,32,33.2,34,34.8,35.6,36.4,37.2,38,38.8,39.6,40.4],[37.6,29.8,31,32.4,33.2,34.4,35.2,36,36.8,37.6,38.4,39.2,40,41],[38.4,30.8,32.2,33.6,35,36,36.8,37.6,38.4,39.2,40,40.8,41.6],[39.2,31.4,33,34.8,36.2,37.4,38.2,39,39.8,40.6,41.4,42.4],[40,32.2,33.8,35,36.6,38,39,39.8,40.6,41.4,42.2,43],[40.8,33,34.6,36,37.4,38.8,40,40.8,41.6,42.4,43.2],[41.6,34,35.6,37,38.4,39.6,40.8,41.6,42.4,43.2,44],[42.4,34.6,36.4,37.8,39.2,40.6,41.6,42.4,43.2,44,44.8],[43.2,35.4,37,38.6,40,41.4,42.4,43.2,44,44.8],[44,36,37.8,39.2,40.8,41.8,42.8,43.6,44.4,45.2],[44.8,36.8,38.4,40,41.4,42.6,43.4,44.2,45,45.8],[45.6,37.6,39,40.6,42,43.2,44,44.8,45.6,46.2],[46.4,38.4,39.8,41.2,42.6,43.8,44.6,45.4,46.2],[47.2,38.8,40.2,41.6,43,44.2,45,45.8,46.6],[48,39.4,40.8,42,43.4,44.6,45.4,46.2],[48.8,38.2,39.8,41.2,42.6,43.8,44.8,45.8],[49.6,39,40.4,41.8,43,44.2,45.2],[50.3,37.8,38.8,40,41.4,42.8,44]];
function pairs(f){const o=[];for(let i=0;i<f.length;i+=2)o.push([f[i],f[i+1]]);return o;}
function rowsToPoints(rows){return rows.flatMap(r=>r.slice(1).map(x=>[x,r[0]]));}
const heatingData=pairs(heatingSparse).concat(pairs(heatingCloud),pairs(heatingExtra),rowsToPoints(heatingCore));
const coolingData=pairs(coolingSparse).concat(pairs(coolingCloud),pairs(coolingWings),pairs(coolingFill),rowsToPoints(coolingCore));
const heatFit=heatFitX.map((x,i)=>[x,heatFitY[i]]);
const coolFit=coolFitX.map((x,i)=>[x,coolFitY[i]]);

const FONT='"Liberation Sans",Arial,sans-serif', INK='#303030', LINE='#333333', GRID='#e6e6e6';
const BLUE='#0072BD', RED='#ff0000';
const rectL={left:76,top:20,width:444.5,height:444.5,outerBoundsMode:'none'}, rectR={left:659.5,top:20,width:445,height:444.5,outerBoundsMode:'none'};

function axis(dim,gridIndex,position,main,name,gap){
  const interval=dim==='x'?20:10;
  return {type:'value',gridIndex,position,min:0,max:100,interval,
    name:main?name:'',nameLocation:'middle',nameGap:gap,
    nameTextStyle:{fontFamily:FONT,fontSize:20,color:INK},
    axisLine:{show:true,onZero:false,lineStyle:{color:LINE,width:1}},
    axisTick:{show:true,inside:true,length:4.5,lineStyle:{color:LINE,width:1}},
    axisLabel:{show:main,margin:dim==='x'?13:8,padding:dim==='y'?[5,0,0,0]:0,fontFamily:FONT,fontSize:17.5,color:INK},
    splitLine:{show:main,lineStyle:{color:GRID,width:1.5}}};
}
function legend(left,top,names){
  return {left,top,orient:'vertical',selectedMode:false,
    data:[{name:names[0]},{name:names[1],itemStyle:{opacity:0},lineStyle:{color:RED,width:1.3}}],
    itemWidth:56,itemHeight:4,itemGap:3,padding:[5,6,2,6],
    backgroundColor:'#fff',borderColor:'#262626',borderWidth:1,borderRadius:0,
    textStyle:{fontFamily:FONT,fontSize:16.5,color:'#111',lineHeight:20,padding:[1,0,0,-1]}};
}
function r2Text(x,val){
  const f={fontFamily:FONT,fontSize:18.4,fill:'#111',lineHeight:26,verticalAlign:'bottom'};
  return {type:'text',x,y:393,z:50,style:{text:'{a|R}{s|2}{a| = '+val+'}',fontFamily:FONT,verticalAlign:'middle',fill:'#111',
    rich:{a:f,s:{fontFamily:FONT,fontSize:14,fill:'#111',lineHeight:26,verticalAlign:'top'}}}};
}
function linText(x,s){
  return {type:'text',x,y:434,z:50,style:{text:s,fontFamily:FONT,fontSize:18.4,fill:'#111',verticalAlign:'middle'}};
}
const option={animation:false,backgroundColor:'#fff',
  grid:[rectL,rectR],
  xAxis:[axis('x',0,'bottom',true,'Thermal heating need measured (kW)',38),axis('x',0,'top',false),
         axis('x',1,'bottom',true,'Thermal cooling need measured (kW)',38),axis('x',1,'top',false)],
  yAxis:[axis('y',0,'left',true,'Themal heating need calculated (kW)',46),axis('y',0,'right',false),
         axis('y',1,'left',true,'Thermal cooling need calculated (kW)',45),axis('y',1,'right',false)],
  legend:[legend(340,34,['Heating data','Linear fitting']),legend(925,34,['Cooling data','Linear fitting '])],
  series:[
   {name:'Heating data',type:'scatter',xAxisIndex:0,yAxisIndex:0,data:heatingData,symbolSize:4,itemStyle:{color:BLUE,opacity:1},z:3},
   {name:'Linear fitting',type:'line',xAxisIndex:0,yAxisIndex:0,data:heatFit,symbol:'none',lineStyle:{color:RED,width:1.2},itemStyle:{color:RED},z:4},
   {name:'Cooling data',type:'scatter',xAxisIndex:2,yAxisIndex:2,data:coolingData,symbolSize:4,itemStyle:{color:BLUE,opacity:1},z:3},
   {name:'Linear fitting ',type:'line',xAxisIndex:2,yAxisIndex:2,data:coolFit,symbol:'none',lineStyle:{color:RED,width:1.2},itemStyle:{color:RED},z:4}
  ],
  graphic:[r2Text(299,'0.7811'),linText(254,'Linear:  y = 1.055x + 0.4506'),r2Text(882,'0.8126'),linText(838,'Linear:  y = 1.044x + 0.9404')]
};
const chart=echarts.init(document.getElementById('c'),null,{renderer:'canvas',width:1123,height:523});
chart.setOption(option);
</script></body></html>
